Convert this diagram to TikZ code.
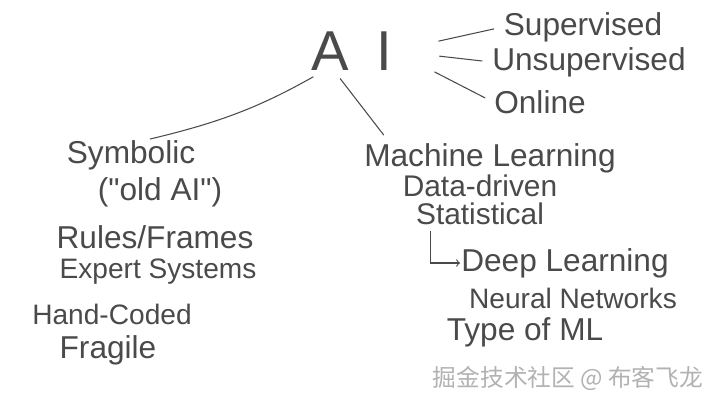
\documentclass[tikz,border=0pt]{standalone}
\usepackage{fontspec}
\setmainfont{Liberation Sans}
\newfontfamily\cjk{Noto Sans CJK SC}
\definecolor{ink}{HTML}{4A4A4A}

\begin{document}
\begin{tikzpicture}[x=0.02cm,y=-0.02cm,
  hand/.style={text=ink,font=\fontsize{18}{20}\selectfont,inner sep=0.5pt},
  small/.style={font=\fontsize{16}{18}\selectfont},
  pen/.style={draw=ink,line width=0.6pt}]
\useasboundingbox[fill=white] (0,0) rectangle (720,405);
% top
\node[hand,font=\fontsize{32}{34}\selectfont] (ai) at (352,51) {A\hspace{0.5em}I};
\node[hand] (sup) at (583,27) {Supervised};
\node[hand] (unsup) at (589,62) {Unsupervised};
\node[hand] (onl) at (540,102) {Online};
\draw[pen,shorten <=26pt,shorten >=5pt] (ai.east) -- (sup.west);
\draw[pen,shorten <=26pt,shorten >=5pt] (ai.east) -- (unsup.west);
\draw[pen,shorten <=26pt,shorten >=5pt] (ai.east) -- (onl.west);
% symbolic side
\node[hand] (sym) at (131,155) {Symbolic};
\node[hand] (old) at (160,192) {(\textquotedbl old AI\textquotedbl)};
\node[hand] (rules) at (155,237) {Rules/Frames};
\node[hand,small] (expert) at (158,272) {Expert Systems};
\node[hand,small] (coded) at (112,314) {Hand-Coded};
\node[hand] (fragile) at (108,350) {Fragile};
\draw[pen,shorten <=6pt] (ai.215) to[bend left=8] (sym.40);
% learning side
\node[hand] (ml) at (490,158) {Machine Learning};
\node[hand,font=\fontsize{17}{18}\selectfont] (data) at (480,186) {Data-driven};
\node[hand,font=\fontsize{17}{18}\selectfont] (stat) at (480,214) {Statistical};
\node[hand] (dl) at (565,263) {Deep Learning};
\node[hand,small] (nn) at (573,298) {Neural Networks};
\node[hand] (type) at (525,332) {Type of ML};
\draw[pen,shorten <=5pt,shorten >=5pt] (ai.230) -- (ml.171);
\draw[pen,->] ([xshift=9pt,yshift=-3pt]stat.south west) |- (dl.west);
% watermark
\node[text=gray!60,font=\cjk\fontsize{13.5}{14}\selectfont] (mark) at (568,378) {掘金技术社区 @ 布客飞龙};
\end{tikzpicture}
\end{document}
